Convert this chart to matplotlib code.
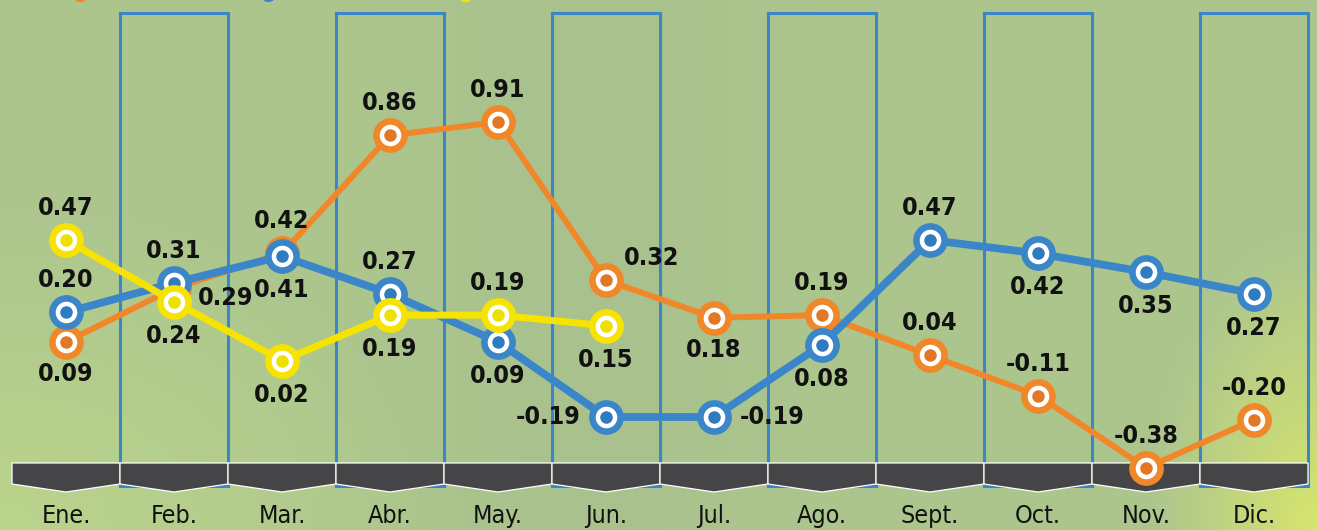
import numpy as np
import matplotlib
matplotlib.use("Agg")
import matplotlib.pyplot as plt
from matplotlib.patches import Polygon, Rectangle
from matplotlib import font_manager

# ---------------- data ----------------
months = ["Ene.", "Feb.", "Mar.", "Abr.", "May.", "Jun.", "Jul.", "Ago.",
          "Sept.", "Oct.", "Nov.", "Dic."]
orange_vals = [0.09, 0.29, 0.42, 0.86, 0.91, 0.32, 0.18, 0.19, 0.04, -0.11, -0.38, -0.20]
blue_vals = [0.20, 0.31, 0.41, 0.27, 0.09, -0.19, -0.19, 0.08, 0.47, 0.42, 0.35, 0.27]
yellow_vals = [0.47, 0.24, 0.02, 0.19, 0.19, 0.15]

# label placement (dx, dy) in pixels, dy positive downward
orange_lab = [(0, 32), (52, 10), (0, -32), (0, -32), (0, -32), (46, -22),
              (0, 32), (0, -32), (0, -32), (0, -32), (0, -32), (0, -32)]
blue_lab = [(0, -32), (0, -32), (0, 34), (0, -32), (0, 34), (-58, 0),
            (58, 0), (0, 34), (0, -32), (0, 34), (0, 34), (0, 34)]
yellow_lab = [(0, -32), (0, 34), (0, 34), (0, 34), (0, -32), (0, 34)]

ORANGE = "#f0882a"
ORANGE_IN = "#e07824"
BLUE = "#3a86c8"
BLUE_IN = "#2f7bbf"
YELLOW = "#f6e400"
YELLOW_IN = "#ece100"

W, H = 1317, 530
DPI = 100

names = {f.name for f in font_manager.fontManager.ttflist}
if "Liberation Sans Narrow" in names:
    FAM = ["Liberation Sans Narrow", "DejaVu Sans"]
    STRETCH = "normal"
else:
    FAM = ["DejaVu Sans"]
    STRETCH = "condensed"

fig = plt.figure(figsize=(W / DPI, H / DPI), dpi=DPI)

# ---------------- background (pixel coords) ----------------
bg = fig.add_axes([0, 0, 1, 1])
bg.set_xlim(0, W)
bg.set_ylim(H, 0)
bg.axis("off")

ny, nx = 60, 140
yy, xx = np.mgrid[0:1:ny * 1j, 0:1:nx * 1j]
base = np.array([173, 198, 142]) / 255.0
img = np.ones((ny, nx, 3)) * base
# lighter lower-left
w1 = np.clip(1 - np.hypot(xx / 0.35, (1 - yy) / 0.6), 0, 1)
img += w1[..., None] * (np.array([186, 212, 140]) / 255.0 - base)
# yellowish lower-right corner
w2 = np.clip(1 - np.hypot((1 - xx) / 0.12, (1 - yy) / 0.55), 0, 1)
img += w2[..., None] * (np.array([214, 228, 110]) / 255.0 - base)
# subtle darker middle band
w3 = np.exp(-((xx - 0.45) ** 2) / 0.02) * 0.5
img += w3[..., None] * (np.array([166, 190, 140]) / 255.0 - base)
img = np.clip(img, 0, 1)
bg.imshow(img, extent=[0, W, H, 0], aspect="auto", interpolation="bilinear", zorder=0)

x0 = 12
mw = 108
# blue column frames
for i in range(1, 12, 2):
    bg.add_patch(Rectangle((x0 + i * mw, 13), mw, 473, fill=False,
                           edgecolor=BLUE, lw=2.2, zorder=1))
# month band
for i in range(12):
    a = x0 + i * mw
    b = a + mw
    poly = Polygon([(a, 463), (b, 463), (b, 484), ((a + b) / 2, 492), (a, 484)],
                   closed=True, facecolor="#454447", edgecolor="white", lw=0.9, zorder=2)
    bg.add_patch(poly)
    bg.text((a + b) / 2, 516, months[i], ha="center", va="center", fontsize=18,
            family=FAM, fontstretch=STRETCH, color="#111111", zorder=3)

# cut-off legend markers at the very top
for xc, c in [(80, ORANGE), (268, BLUE), (465, YELLOW)]:
    bg.plot([xc], [-6], marker="o", ms=10, color=c, clip_on=False, zorder=3)

# ---------------- data axes ----------------
ax = fig.add_axes([0, 0, 1, 1])
ax.patch.set_alpha(0)
ax.axis("off")
ax.set_xlim(-0.5 - x0 / mw, -0.5 + (W - x0) / mw)
px_per_unit = 268.2
ax.set_ylim(0.91 - (H - 122) / px_per_unit, 0.91 + 122 / px_per_unit)


def draw(vals, col, inner, lw, labs, z):
    x = np.arange(len(vals))
    ax.plot(x, vals, color=col, lw=lw, zorder=z, solid_capstyle="round")
    ax.plot(x, vals, ls="none", marker="o", ms=24, color=col, zorder=z + 0.1)
    ax.plot(x, vals, ls="none", marker="o", ms=14.5, color="white", zorder=z + 0.2)
    ax.plot(x, vals, ls="none", marker="o", ms=8, color=inner, zorder=z + 0.3)
    for xi, v, (dx, dy) in zip(x, vals, labs):
        ax.annotate(f"{v:.2f}", (xi, v), xytext=(dx * 0.72, -dy * 0.72),
                    textcoords="offset points", ha="center", va="center",
                    fontsize=18, fontweight="bold", family=FAM, fontstretch=STRETCH,
                    color="#111111", zorder=20)


draw(orange_vals, ORANGE, ORANGE_IN, 4.3, orange_lab, 5)
draw(blue_vals, BLUE, BLUE_IN, 5.6, blue_lab, 6)
draw(yellow_vals, YELLOW, YELLOW_IN, 5.0, yellow_lab, 7)

fig.savefig("out.png", dpi=DPI)
